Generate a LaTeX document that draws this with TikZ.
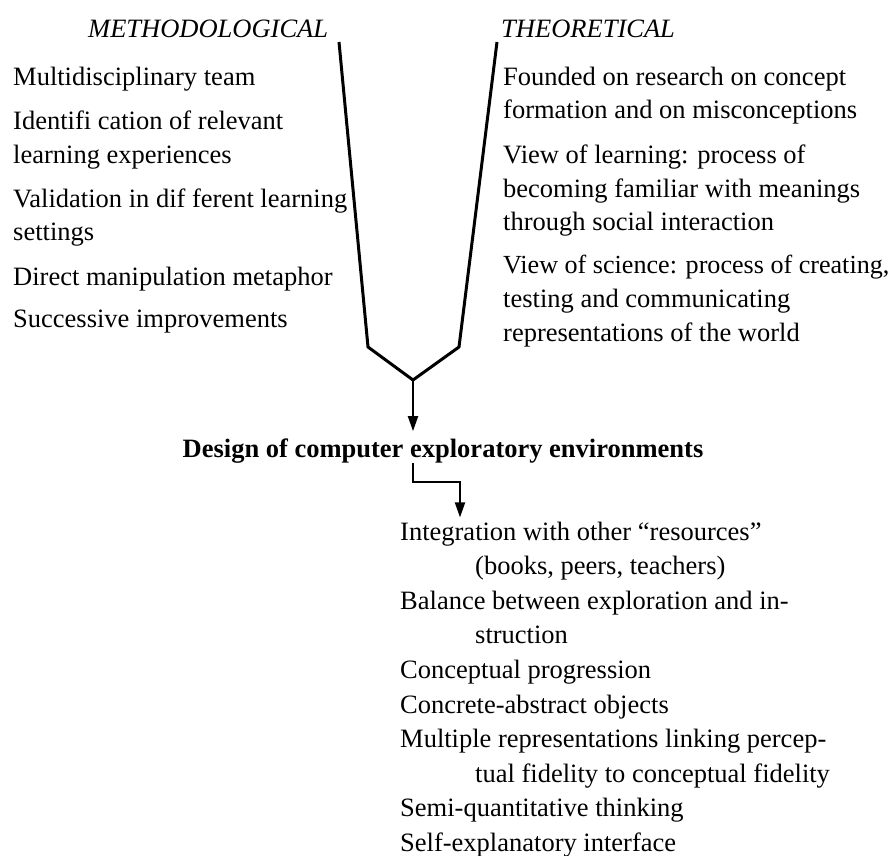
\documentclass[tikz,border=0pt]{standalone}
\usepackage{fontspec}
\setmainfont{Liberation Serif}
\usetikzlibrary{arrows.meta}
\begin{document}
\begin{tikzpicture}[x=1pt,y=-1pt,
  txt/.style={anchor=base west,inner sep=0pt,font=\fontsize{26.5}{33}\selectfont},
  head/.style={anchor=base west,inner sep=0pt,font=\fontsize{26.5}{33}\selectfont\itshape},
  titletxt/.style={anchor=base,inner sep=0pt,font=\fontsize{26.5}{33}\selectfont\bfseries},
  funnel/.style={line width=3pt,line join=miter},
  arr/.style={line width=2pt,-{Triangle[length=15pt,width=10pt]}}]
\useasboundingbox (0,0) rectangle (891,856);

% headings
\node[head] (hm) at (88,38) {METHODOLOGICAL};
\node[head] (ht) at (501,38) {THEORETICAL};

% methodological column
\node[txt] (m1)  at (13,86)  {Multidisciplinary team};
\node[txt] (m2a) at (13,129) {Identifi cation of relevant};
\node[txt] (m2b) at (13,163) {learning experiences};
\node[txt] (m3a) at (13,207) {Validation in dif ferent learning};
\node[txt] (m3b) at (13,240) {settings};
\node[txt] (m4)  at (13,285) {Direct manipulation metaphor};
\node[txt] (m5)  at (13,327) {Successive improvements};

% theoretical column
\node[txt] (t1a) at (503,86)  {Founded on research on concept};
\node[txt] (t1b) at (503,119) {formation and on misconceptions};
\node[txt] (t2a) at (503,163) {View of learning: process of};
\node[txt] (t2b) at (503,197) {becoming familiar with meanings};
\node[txt] (t2c) at (503,230) {through social interaction};
\node[txt,font=\fontsize{26.1}{33}\selectfont] (t3a) at (503,273) {View of science: process of creating,};
\node[txt] (t3b) at (503,307) {testing and communicating};
\node[txt] (t3c) at (503,341) {representations of the world};

% funnel
\coordinate (lt) at (339,42);
\coordinate (lb) at (368,347);
\coordinate (v)  at (413,380);
\coordinate (rb) at (459,347);
\coordinate (rt) at (497,42);
\draw[funnel] (lt) -- (lb) -- (v) -- (rb) -- (rt);

% title
\node[titletxt] (design) at (443,457) {Design of computer exploratory environments};
\draw[arr,shorten >=7pt] (v) -- (v |- design.north);

% bottom list
\node[txt] (b1a) at (400,540)   {Integration with other “resources”};
\node[txt] (b1b) at (475,574.6) {(books, peers, teachers)};
\node[txt] (b2a) at (400,609.2) {Balance between exploration and in-};
\node[txt] (b2b) at (475,643.8) {struction};
\node[txt] (b3)  at (400,678.4) {Conceptual progression};
\node[txt] (b4)  at (400,713)   {Concrete-abstract objects};
\node[txt] (b5a) at (400,747.6) {Multiple representations linking percep-};
\node[txt] (b5b) at (475,782.2) {tual fidelity to conceptual fidelity};
\node[txt] (b6)  at (400,816.8) {Semi-quantitative thinking};
\node[txt] (b7)  at (400,851.4) {Self-explanatory interface};

\coordinate (elb) at (460,482);
\draw[arr,shorten >=4pt] (design.south -| v) |- (elb) -- (elb |- b1a.north);
\end{tikzpicture}
\end{document}
